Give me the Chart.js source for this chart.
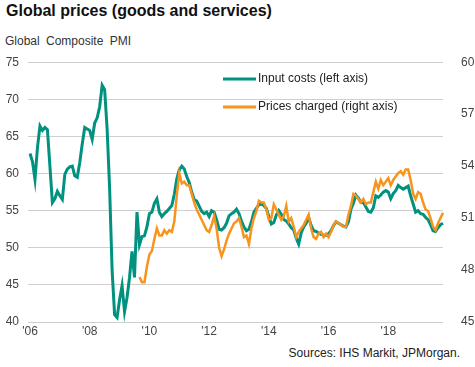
<!DOCTYPE html>
<html>
<head>
<meta charset="utf-8">
<script src="https://cdn.jsdelivr.net/npm/chart.js@4/dist/chart.umd.min.js"></script>
<style>
  body { margin: 0; background: #fff; font-family: "Liberation Sans", Arial, sans-serif; }
  #wrap { position: relative; width: 475px; height: 367px; }
  #title { position: absolute; left: 6px; top: 2px; font-size: 16px; font-weight: bold; color: #111; }
  #sub { position: absolute; left: 5px; top: 34px; font-size: 12px; color: #333; word-spacing: 3px; }
  #box { position: absolute; left: 0; top: 45px; width: 475px; height: 300px; }
  #src { position: absolute; right: 15px; top: 346px; font-size: 12px; color: #222; }
</style>
</head>
<body>
<div id="wrap">
  <div id="title">Global prices (goods and services)</div>
  <div id="sub">Global Composite PMI</div>
  <div id="box"><canvas id="chart"></canvas></div>
  <div id="src">Sources: IHS Markit, JPMorgan.</div>
</div>
<script>
// monthly, Jan 2006 .. Nov 2019
const startYear = 2006;
const monthCount = 167;
const months = [];
for (let i = 0; i < monthCount; i++) {
    const y = startYear + Math.floor(i / 12);
    const m = (i % 12) + 1;
    months.push(y + "-" + (m < 10 ? "0" + m : m));
}

// Input costs, left axis
const inputCosts = [
    62.7, 61.6, 59.2, 63.5, 66.4, 65.8, 66.2, 65.9, 61.0, 56.1,
    56.6, 57.6, 57.0, 56.5, 59.9, 60.6, 60.9, 61.0, 59.7, 59.5,
    61.5, 64.0, 66.2, 66.0, 65.8, 64.6, 66.8, 67.5, 69.0, 71.9,
    71.3, 66.0, 58.0, 47.0, 41.0, 40.6, 43.0, 44.9, 41.4, 43.3,
    46.0, 49.5, 46.0, 54.8, 50.4, 51.5, 51.6, 52.8, 54.6, 54.8,
    56.0, 56.6, 54.8, 54.2, 54.6, 54.9, 55.3, 55.7, 57.2, 59.3,
    60.5, 61.0, 60.6, 59.6, 58.8, 57.5, 56.5, 56.3, 55.6, 54.9,
    54.6, 54.8, 54.2, 55.0, 54.8, 53.8, 52.5, 52.4, 52.7, 53.3,
    54.3, 54.6, 54.8, 55.2, 54.6, 53.6, 52.8, 52.3, 52.5, 53.5,
    54.8, 55.3, 55.8, 55.9, 55.7, 55.3, 54.2, 53.2, 53.4, 54.4,
    55.0, 54.5, 53.8, 53.6, 53.2, 52.7, 52.4, 51.3, 50.5, 52.0,
    52.8, 53.3, 54.1, 53.0, 52.3, 52.2, 52.0, 51.8, 51.7, 51.7,
    51.9, 52.3, 53.0, 53.5, 53.3, 53.1, 52.9, 52.8, 53.5, 55.2,
    56.0, 57.1, 56.7, 56.1, 56.1, 55.5, 54.9, 54.8, 55.4, 57.0,
    56.8, 57.1, 57.5, 57.7, 57.5, 56.6, 57.3, 57.7, 58.4, 58.1,
    57.9, 58.1, 58.3, 57.0, 55.9, 54.8, 55.0, 54.6, 54.5, 54.1,
    53.8, 53.1, 52.3, 52.2, 52.7, 53.1, 53.3
];

// Prices charged, right axis, series starts Sep 2009
const pricesStart = "2009-09";
const pricesCharged = [
    47.6, 47.3, 47.3, 48.2, 48.9, 49.1,
    49.8, 50.4, 50.0, 50.0, 50.3, 50.1, 50.3, 50.2, 50.8, 52.3,
    53.6, 53.0, 53.1, 52.9, 52.9, 52.4, 51.9, 51.5, 51.2, 50.9,
    50.6, 50.3, 50.2, 50.6, 51.1, 50.4, 49.3, 48.8, 49.2, 49.7,
    50.1, 50.4, 50.7, 50.8, 51.0, 50.5, 49.9, 50.0, 49.5, 50.4,
    51.0, 51.4, 52.0, 51.9, 51.9, 51.5, 50.9, 51.0, 51.8, 51.5,
    51.2, 50.9, 51.1, 51.7, 50.8, 51.0, 50.5, 49.9, 50.2, 50.4,
    50.6, 50.9, 51.2, 50.4, 49.9, 49.8, 50.1, 50.2, 49.9, 50.1,
    49.9, 50.2, 50.6, 50.8, 50.7, 50.6, 50.5, 50.5, 51.2, 51.7,
    52.4, 52.3, 52.1, 51.9, 52.1, 51.8, 51.9, 51.9, 52.5, 53.1,
    52.7, 53.2, 52.9, 53.1, 53.3, 52.9, 53.2, 53.4, 53.6, 53.7,
    53.5, 53.8, 53.8, 53.2, 52.4, 52.1, 52.5, 52.4, 51.9, 51.5,
    51.4, 51.0, 50.5, 50.3, 50.7, 51.0, 51.3
];

const leftTicks = { min: 40, max: 75, step: 5 };
const rightTicks = { min: 45, max: 60, step: 3 };

const teal = "#00917f";
const orange = "#f7941d";
const font = "'Liberation Sans', Arial, sans-serif";

const pricesPadded = Array(months.indexOf(pricesStart)).fill(null).concat(pricesCharged);

// legend drawn inside the plot, top right
const insideLegend = {
    id: "insideLegend",
    afterDatasetsDraw(chart) {
        const ctx = chart.ctx;
        const items = [chart.data.datasets[0], chart.data.datasets[1]];
        ctx.save();
        items.forEach((ds, i) => {
            const y = 34 + i * 28;
            ctx.strokeStyle = ds.borderColor;
            ctx.lineWidth = 3;
            ctx.beginPath();
            ctx.moveTo(223, y);
            ctx.lineTo(256, y);
            ctx.stroke();
            ctx.fillStyle = "#222";
            ctx.font = "12px " + font;
            ctx.textBaseline = "middle";
            ctx.fillText(ds.label, 258, y);
        });
        ctx.restore();
    }
};

new Chart(document.getElementById("chart"), {
    type: "line",
    data: {
        labels: months,
        datasets: [
            {
                label: "Input costs (left axis)",
                data: inputCosts,
                borderColor: teal,
                borderWidth: 3,
                yAxisID: "y",
                order: 1,
            },
            {
                label: "Prices charged (right axis)",
                data: pricesPadded,
                borderColor: orange,
                borderWidth: 2.5,
                yAxisID: "y2",
                order: 0,
            },
        ],
    },
    options: {
        responsive: true,
        maintainAspectRatio: false,
        animation: false,
        layout: { padding: { top: 7, left: 0, right: 0, bottom: 0 } },
        elements: { point: { radius: 0 }, line: { tension: 0 } },
        plugins: { legend: { display: false }, tooltip: { enabled: false } },
        scales: {
            x: {
                grid: { display: false, drawTicks: false },
                border: { display: false },
                afterFit: (s) => { s.height = 23; },
                ticks: {
                    autoSkip: false,
                    maxRotation: 0,
                    padding: 2,
                    color: "#444",
                    font: { family: font, size: 12 },
                    callback: function (val) {
                        const lab = this.getLabelForValue(val);
                        const yr = +lab.slice(0, 4);
                        if (lab.slice(5) === "01" && yr % 2 === 0) return "'" + lab.slice(2, 4);
                        return "";
                    },
                },
            },
            y: {
                position: "left",
                min: leftTicks.min,
                max: leftTicks.max,
                afterFit: (s) => { s.width = 30; },
                grid: { color: "#cfcfcf", lineWidth: 1, tickLength: 2, drawTicks: true },
                border: { display: false },
                ticks: {
                    stepSize: leftTicks.step,
                    padding: 9,
                    color: "#444",
                    font: { family: font, size: 12 },
                },
            },
            y2: {
                position: "right",
                min: rightTicks.min,
                max: rightTicks.max,
                afterFit: (s) => { s.width = 32; },
                grid: { display: false },
                border: { display: false },
                ticks: {
                    stepSize: rightTicks.step,
                    padding: 10,
                    color: "#444",
                    font: { family: font, size: 12 },
                },
            },
        },
    },
    plugins: [insideLegend],
});
</script>
</body>
</html>
